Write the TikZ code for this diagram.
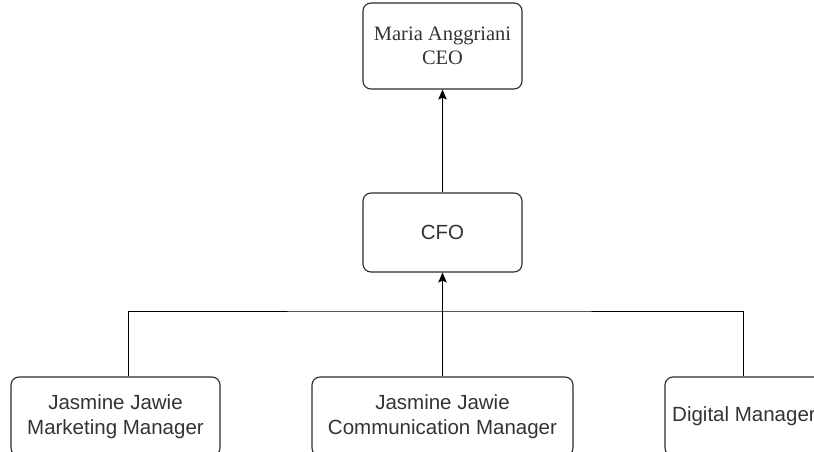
\documentclass[tikz,border=0pt]{standalone}
\usepackage{fontspec}
\setmainfont{Liberation Serif}
\newfontfamily\arialish{Liberation Sans}
\usetikzlibrary{arrows.meta}
\definecolor{txt}{HTML}{333333}
\definecolor{edge}{HTML}{2B2B2B}
\tikzset{
  box/.style={draw=edge, line width=1.1pt, rounded corners=8pt, inner sep=0pt, align=center, text=txt},
  sansbox/.style={box, font=\arialish\fontsize{20.5}{25}\selectfont},
  serifbox/.style={box, font=\fontsize{20.5}{23.5}\selectfont},
  conn/.style={draw=black, line width=1pt},
  arr/.style={conn, -{Stealth[length=10pt, width=8.5pt, inset=2pt]}}
}
\begin{document}
\begin{tikzpicture}[x=1pt, y=-1pt]
\useasboundingbox (0,0) rectangle (814,452);
\clip (0,0) rectangle (814,452);
\node[serifbox, minimum width=159pt, minimum height=86pt] (ceo) at (442.5,46) {Maria Anggriani\\CEO};
\node[sansbox, minimum width=159pt, minimum height=79pt] (cfo) at (442.5,232.5) {CFO};
\node[sansbox, minimum width=209pt, minimum height=79pt] (mkt) at (115.5,416.5) {Jasmine Jawie\\Marketing Manager};
\node[sansbox, minimum width=261pt, minimum height=79pt] (com) at (442.5,416.5) {Jasmine Jawie\\Communication Manager};
\node[sansbox, minimum width=158pt, minimum height=79pt] (dig) at (744,416.5) {Digital Manager};
\coordinate (j) at (443,311);
\coordinate (mtop) at ([xshift=12.5pt]mkt.north);
\coordinate (dtop) at ([xshift=-1pt]dig.north);
\draw[conn] (mtop) |- (j) -| (dtop);
\draw[arr] (com.north) -- (cfo.south);
\draw[arr] (cfo.north) -- (ceo.south);
\end{tikzpicture}
\end{document}
